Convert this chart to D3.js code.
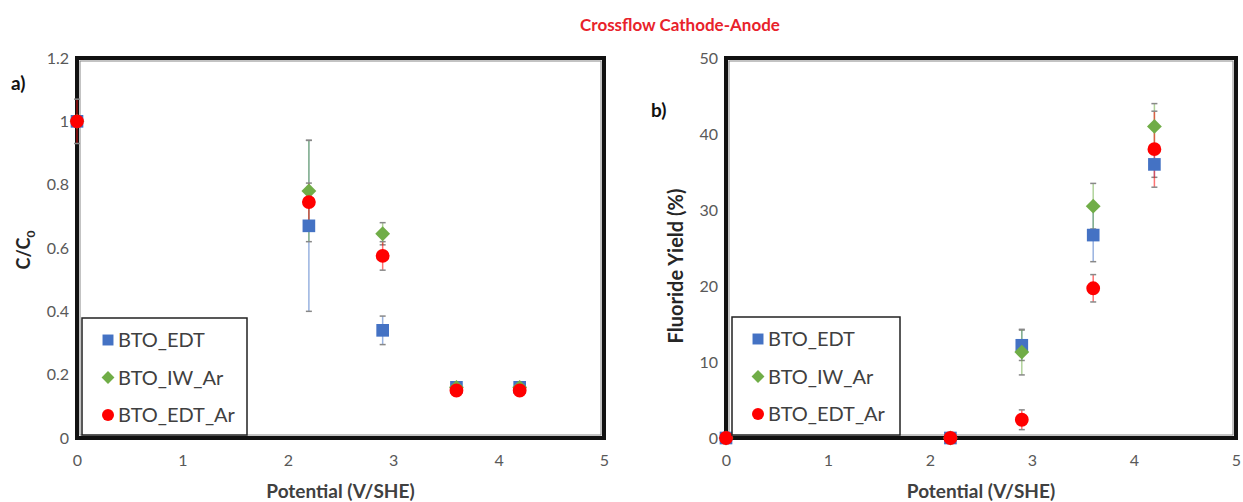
<!DOCTYPE html>
<html>
<head>
<meta charset="utf-8">
<script src="https://cdn.jsdelivr.net/npm/d3@7"></script>
<style>
  body { margin: 0; background: #fff; }
  text { font-family: Lato, "Open Sans", sans-serif; }
</style>
</head>
<body>
<script>
// data
const potentials = [0, 2.2, 2.9, 3.6, 4.2];
const seriesNames = ['BTO_EDT', 'BTO_IW_Ar', 'BTO_EDT_Ar'];

// panel a: C/C0
const concEDT = [1, 0.67, 0.34, 0.16, 0.16];
const concEDTErr = [0, 0.27, 0.045, 0, 0];
const concIW = [1, 0.78, 0.645, 0.16, 0.16];
const concIWErr = [0, 0.16, 0.035, 0, 0];
const concEDTAr = [1, 0.745, 0.575, 0.15, 0.15];
const concEDTArErr = [0.07, 0.06, 0.045, 0, 0];

// panel b: fluoride yield (%)
const yieldEDT = [0, 0, 12.2, 26.7, 36];
const yieldEDTErr = [0, 0, 2, 3.5, 1.7];
const yieldIW = [0, 0, 11.3, 30.5, 41];
const yieldIWErr = [0, 0, 3, 3, 3];
const yieldEDTAr = [0, 0, 2.4, 19.7, 38];
const yieldEDTArErr = [0, 0, 1.3, 1.8, 5];

const xTicks = [0, 1, 2, 3, 4, 5];
const concTicks = [0, 0.2, 0.4, 0.6, 0.8, 1, 1.2];
const yieldTicks = [0, 10, 20, 30, 40, 50];

const colors = ['#4472C4', '#70AD47', '#FF0000'];
// diamond = square turned 45 degrees
const shapes = [d3.symbolSquare, d3.symbolSquare, d3.symbolCircle];
const turns = [0, 45, 0];
const sizes = [160, 110, 150];

const svg = d3.select('body')
  .append('svg')
  .attr('width', 1243)
  .attr('height', 502);

svg.append('text')
  .attr('x', 680)
  .attr('y', 31)
  .attr('text-anchor', 'middle')
  .attr('fill', '#E8222B')
  .style('font-weight', 'bold')
  .style('font-size', '17px')
  .text('Crossflow Cathode-Anode');

function panel(opts) {
  const x = d3.scaleLinear().domain([0, 5]).range([opts.left, opts.right]);
  const y = d3.scaleLinear().domain([0, opts.ymax]).range([opts.bottom, opts.top]);
  const g = svg.append('g');

  // frame
  g.append('rect')
    .attr('x', opts.left).attr('y', opts.top)
    .attr('width', opts.right - opts.left).attr('height', opts.bottom - opts.top)
    .attr('fill', 'none').attr('stroke', '#111').attr('stroke-width', 4);
  g.append('rect')
    .attr('x', opts.left + 3).attr('y', opts.top + 3)
    .attr('width', opts.right - opts.left - 6).attr('height', opts.bottom - opts.top - 6)
    .attr('fill', 'none').attr('stroke', '#888').attr('stroke-width', 1);

  // axes
  const xAxis = g.append('g')
    .attr('transform', `translate(0,${opts.bottom})`)
    .call(d3.axisBottom(x).tickValues(xTicks).tickSize(0).tickPadding(17).tickFormat(d3.format('d')));
  const yAxis = g.append('g')
    .attr('transform', `translate(${opts.left},0)`)
    .call(d3.axisLeft(y).tickValues(opts.yTicks).tickSize(0).tickPadding(8).tickFormat(opts.fmt));
  [xAxis, yAxis].forEach(a => {
    a.select('.domain').remove();
    a.selectAll('text')
      .style('font-size', '16px')
      .style('font-family', 'Lato, sans-serif')
      .attr('fill', '#595959');
  });

  g.append('text')
    .attr('x', (opts.left + opts.right) / 2)
    .attr('y', 498)
    .attr('text-anchor', 'middle')
    .style('font-weight', 'bold').style('font-size', '19px')
    .attr('fill', '#404040')
    .text('Potential (V/SHE)');

  const yt = g.append('text')
    .attr('transform', `translate(${opts.ytitleX},${opts.ytitleY}) rotate(-90)`)
    .attr('text-anchor', 'middle')
    .style('font-weight', 'bold').style('font-size', '20px')
    .attr('fill', '#262626');
  if (opts.sub) {
    yt.style('font-size', '18px');
    yt.append('tspan').text('C/C');
    yt.append('tspan').attr('dy', 5).style('font-size', '12px').text('0');
  } else {
    yt.text(opts.ytitle);
  }

  g.append('text')
    .attr('x', opts.labelX).attr('y', opts.labelY)
    .style('font-weight', 'bold').style('font-size', '19px')
    .attr('fill', '#111')
    .text(opts.label);

  // error bars + markers
  opts.series.forEach((s, si) => {
    const sg = g.append('g');
    potentials.forEach((p, i) => {
      const e = s.err[i];
      if (!e) return;
      const cx = x(p);
      sg.append('line')
        .attr('x1', cx).attr('x2', cx)
        .attr('y1', y(s.vals[i] - e)).attr('y2', y(s.vals[i] + e))
        .attr('stroke', colors[si]).attr('stroke-opacity', 0.55).attr('stroke-width', 1.5);
      [s.vals[i] - e, s.vals[i] + e].forEach(v => {
        sg.append('line')
          .attr('x1', cx - 3).attr('x2', cx + 3)
          .attr('y1', y(v)).attr('y2', y(v))
          .attr('stroke', '#888').attr('stroke-width', 1.5);
      });
    });
  });
  opts.series.forEach((s, si) => {
    g.append('g').selectAll('path')
      .data(potentials.map((p, i) => [p, s.vals[i]]))
      .enter()
      .append('path')
      .attr('d', d3.symbol().type(shapes[si]).size(sizes[si]))
      .attr('transform', d => `translate(${x(d[0])},${y(d[1])}) rotate(${turns[si]})`)
      .attr('fill', colors[si]);
  });

  // legend
  const lg = g.append('g');
  lg.append('rect')
    .attr('x', opts.leg.x).attr('y', opts.leg.y)
    .attr('width', opts.leg.w).attr('height', opts.leg.h)
    .attr('fill', '#fff').attr('stroke', '#222').attr('stroke-width', 1.5);
  seriesNames.forEach((n, i) => {
    const ly = opts.leg.y + 22 + i * 37.5;
    lg.append('path')
      .attr('d', d3.symbol().type(shapes[i]).size(sizes[i] * 0.75))
      .attr('transform', `translate(${opts.leg.x + 26},${ly}) rotate(${turns[i]})`)
      .attr('fill', colors[i]);
    lg.append('text')
      .attr('x', opts.leg.x + 36).attr('y', ly + 7)
      .style('font-size', '20px')
      .attr('fill', '#404040')
      .text(n);
  });
}

panel({
  left: 77, right: 604, top: 58, bottom: 438, ymax: 1.2,
  yTicks: concTicks, fmt: d3.format('~g'),
  sub: true, ytitleX: 30, ytitleY: 250,
  label: 'a)', labelX: 11, labelY: 90,
  leg: { x: 82, y: 318, w: 165, h: 117 },
  series: [
    { vals: concEDT, err: concEDTErr },
    { vals: concIW, err: concIWErr },
    { vals: concEDTAr, err: concEDTArErr },
  ],
});

panel({
  left: 726, right: 1236, top: 58, bottom: 438, ymax: 50,
  yTicks: yieldTicks, fmt: d3.format('d'),
  ytitle: 'Fluoride Yield (%)', ytitleX: 683, ytitleY: 266,
  label: 'b)', labelX: 651, labelY: 117,
  leg: { x: 732, y: 317, w: 168, h: 118 },
  series: [
    { vals: yieldEDT, err: yieldEDTErr },
    { vals: yieldIW, err: yieldIWErr },
    { vals: yieldEDTAr, err: yieldEDTArErr },
  ],
});
</script>
</body>
</html>
